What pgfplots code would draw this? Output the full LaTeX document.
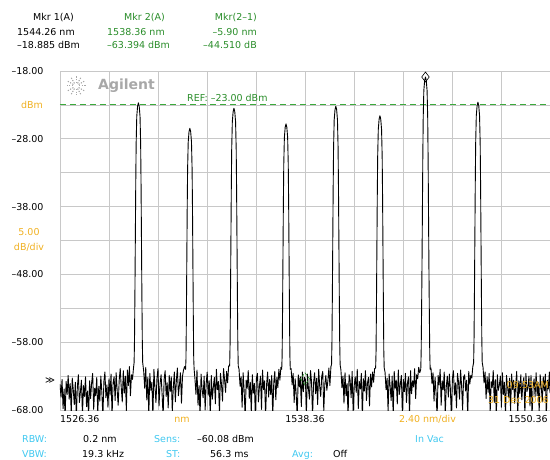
\documentclass[border=0pt]{standalone}
\usepackage{pgfplots}
\pgfplotsset{compat=1.18}
\usepackage{fontspec}
\setmainfont{DejaVu Sans}
\definecolor{osaorange}{RGB}{240,176,32}
\definecolor{osacyan}{RGB}{64,200,240}
\definecolor{osagreen}{RGB}{40,140,40}
\definecolor{refgreen}{RGB}{60,170,60}
\definecolor{gridgray}{RGB}{200,200,200}
\definecolor{logogray}{RGB}{168,168,168}
\begin{document}
\begin{tikzpicture}[font=\fontsize{9.5}{11}\selectfont]
\useasboundingbox (0pt,0pt) rectangle (550pt,459pt);
\begin{axis}[
  at={(60pt,49pt)}, anchor=south west, scale only axis, width=490pt, height=339pt,
  xmin=1526.36, xmax=1550.36, ymin=-68, ymax=-18,
  axis line style={draw=gridgray, line width=0.8pt},
  xtick={1526.36,1528.76,1531.16,1533.56,1535.96,1538.36,1540.76,1543.16,1545.56,1547.96,1550.36},
  xticklabels={},
  ytick={-68,-58,-48,-38,-28,-18},
  yticklabels={–68.00,–58.00,–48.00,–38.00,–28.00,–18.00},
  minor ytick={-63,-53,-43,-33,-23},
  grid=both,
  major grid style={gridgray, line width=0.8pt},
  minor grid style={gridgray, line width=0.8pt},
  major tick length=0pt, minor tick length=0pt,
  yticklabel style={font=\fontsize{9.5}{11}\selectfont, anchor=east, xshift=-13pt},
  clip mode=individual,
]
\addplot[draw=refgreen, line width=1pt, dash pattern=on 6pt off 4pt, mark=none] coordinates {(1526.36,-23) (1550.36,-23)};
\addplot[black, line width=0.9pt, line join=round, mark=none] coordinates {
(1526.36,-64.2)(1526.41,-66.1)(1526.46,-63.5)(1526.51,-67.8)(1526.56,-64.9)(1526.61,-69.0)(1526.66,-63.8)(1526.71,-65.7)(1526.76,-62.9)(1526.81,-66.4)
(1526.86,-64.1)(1526.91,-68.5)(1526.96,-63.3)(1527.01,-65.0)(1527.06,-67.2)(1527.11,-63.9)(1527.16,-69.0)(1527.21,-64.6)(1527.26,-62.8)(1527.31,-66.9)
(1527.36,-65.3)(1527.41,-63.6)(1527.46,-68.8)(1527.51,-64.4)(1527.56,-66.0)(1527.61,-63.1)(1527.66,-67.5)(1527.71,-65.2)(1527.76,-69.0)(1527.81,-63.7)
(1527.86,-66.3)(1527.91,-64.0)(1527.96,-62.6)(1528.01,-67.9)(1528.06,-64.8)(1528.11,-65.9)(1528.16,-63.2)(1528.21,-68.4)(1528.26,-64.5)(1528.31,-66.7)
(1528.36,-63.0)(1528.41,-65.4)(1528.46,-69.0)(1528.51,-63.8)(1528.56,-62.4)(1528.61,-66.2)(1528.66,-64.3)(1528.71,-67.6)(1528.76,-63.4)(1528.81,-65.8)
(1528.86,-62.7)(1528.91,-68.9)(1528.96,-64.0)(1529.01,-63.1)(1529.06,-66.6)(1529.11,-62.5)(1529.16,-65.1)(1529.21,-67.3)(1529.26,-63.6)(1529.31,-61.9)
(1529.36,-64.7)(1529.41,-66.8)(1529.46,-62.2)(1529.51,-65.5)(1529.56,-63.0)(1529.61,-68.1)(1529.66,-62.1)(1529.71,-64.4)(1529.76,-61.6)(1529.81,-65.9)
(1529.86,-62.8)(1529.91,-63.5)(1529.96,-61.8)
(1529.99,-61.0)(1530.01,-57.5)(1530.03,-50.7)(1530.05,-42.7)(1530.07,-34.7)(1530.09,-28.7)(1530.12,-24.7)(1530.16,-23.2)(1530.20,-22.7)(1530.24,-23.2)(1530.28,-24.7)(1530.31,-28.7)(1530.33,-34.7)(1530.35,-42.7)(1530.37,-50.7)(1530.39,-57.5)(1530.41,-61.0)
(1530.46,-62.3)(1530.51,-64.8)(1530.56,-61.7)(1530.61,-66.5)(1530.66,-63.2)(1530.71,-68.7)(1530.76,-62.6)(1530.81,-65.1)(1530.86,-63.9)(1530.91,-69.0)
(1530.96,-62.0)(1531.01,-64.6)(1531.06,-66.9)(1531.11,-63.3)(1531.16,-61.9)(1531.21,-67.4)(1531.26,-64.2)(1531.31,-62.8)(1531.36,-65.6)(1531.41,-69.0)
(1531.46,-63.5)(1531.51,-62.2)(1531.56,-66.0)(1531.61,-64.0)(1531.66,-67.7)(1531.71,-62.9)(1531.76,-65.3)(1531.81,-63.1)(1531.86,-68.2)(1531.91,-64.7)
(1531.96,-62.4)(1532.01,-66.8)(1532.06,-63.6)(1532.11,-61.8)(1532.16,-65.9)(1532.21,-64.3)(1532.26,-62.5)(1532.31,-67.0)(1532.36,-63.0)(1532.41,-62.1)
(1532.46,-61.6)
(1532.51,-62.0)(1532.53,-60.5)(1532.55,-54.45)(1532.57,-46.45)(1532.59,-38.45)(1532.61,-32.45)(1532.64,-28.45)(1532.68,-26.95)(1532.72,-26.45)(1532.76,-26.95)(1532.80,-28.45)(1532.83,-32.45)(1532.85,-38.45)(1532.87,-46.45)(1532.89,-54.45)(1532.91,-60.5)(1532.93,-62.0)
(1532.97,-63.4)(1533.02,-65.7)(1533.07,-62.1)(1533.12,-67.3)(1533.17,-64.4)(1533.22,-69.0)(1533.27,-62.7)(1533.32,-64.9)(1533.37,-66.2)(1533.42,-63.0)
(1533.47,-68.0)(1533.52,-64.1)(1533.57,-62.4)(1533.62,-65.8)(1533.67,-63.7)(1533.72,-69.0)(1533.77,-62.9)(1533.82,-66.4)(1533.87,-64.6)(1533.92,-63.2)
(1533.97,-67.1)(1534.02,-62.0)(1534.07,-65.0)(1534.12,-63.8)(1534.17,-68.6)(1534.22,-62.6)(1534.27,-64.2)(1534.32,-66.7)(1534.37,-61.9)(1534.42,-63.5)
(1534.47,-65.4)(1534.52,-62.3)(1534.57,-64.0)(1534.62,-61.5)
(1534.67,-61.5)(1534.69,-58.3)(1534.71,-51.5)(1534.73,-43.5)(1534.75,-35.5)(1534.77,-29.5)(1534.80,-25.5)(1534.84,-24.0)(1534.88,-23.5)(1534.92,-24.0)(1534.96,-25.5)(1534.99,-29.5)(1535.01,-35.5)(1535.03,-43.5)(1535.05,-51.5)(1535.07,-58.3)(1535.09,-61.5)
(1535.13,-62.0)(1535.18,-64.5)(1535.23,-63.1)(1535.28,-67.6)(1535.33,-62.5)(1535.38,-65.2)(1535.43,-69.0)(1535.48,-63.6)(1535.53,-64.8)(1535.58,-62.2)
(1535.63,-66.3)(1535.68,-63.9)(1535.73,-68.4)(1535.78,-62.8)(1535.83,-65.5)(1535.88,-64.1)(1535.93,-69.0)(1535.98,-63.3)(1536.03,-62.6)(1536.08,-66.8)
(1536.13,-64.4)(1536.18,-63.0)(1536.23,-67.9)(1536.28,-62.1)(1536.33,-65.0)(1536.38,-63.7)(1536.43,-68.8)(1536.48,-64.2)(1536.53,-62.4)(1536.58,-66.1)
(1536.63,-63.5)(1536.68,-65.7)(1536.73,-62.9)(1536.78,-69.0)(1536.83,-64.0)(1536.88,-62.3)(1536.93,-66.5)(1536.98,-63.2)(1537.03,-64.7)(1537.08,-62.0)
(1537.13,-63.6)(1537.18,-61.7)
(1537.22,-62.0)(1537.24,-60.0)(1537.26,-53.8)(1537.28,-45.8)(1537.30,-37.8)(1537.32,-31.8)(1537.35,-27.8)(1537.39,-26.3)(1537.43,-25.8)(1537.47,-26.3)(1537.51,-27.8)(1537.54,-31.8)(1537.56,-37.8)(1537.58,-45.8)(1537.60,-53.8)(1537.62,-60.0)(1537.64,-62.0)
(1537.68,-61.9)(1537.73,-64.3)(1537.78,-62.6)(1537.83,-66.9)(1537.88,-63.4)(1537.93,-65.8)(1537.98,-69.0)(1538.03,-62.8)(1538.08,-64.6)(1538.13,-63.1)
(1538.18,-67.5)(1538.23,-62.4)(1538.28,-65.3)(1538.33,-63.2)(1538.38,-63.5)(1538.43,-68.3)(1538.48,-62.7)(1538.53,-64.9)(1538.58,-66.4)(1538.63,-62.2)
(1538.68,-63.8)(1538.73,-69.0)(1538.78,-64.0)(1538.83,-62.5)(1538.88,-65.6)(1538.93,-63.3)(1538.98,-67.2)(1539.03,-62.0)(1539.08,-64.5)(1539.13,-66.0)
(1539.18,-63.0)(1539.23,-62.3)(1539.28,-68.1)(1539.33,-64.2)(1539.38,-62.9)(1539.43,-65.1)(1539.48,-63.7)(1539.53,-61.8)(1539.58,-64.4)(1539.63,-61.6)
(1539.66,-61.3)(1539.68,-58.0)(1539.70,-51.2)(1539.72,-43.2)(1539.74,-35.2)(1539.76,-29.2)(1539.79,-25.2)(1539.83,-23.7)(1539.87,-23.2)(1539.91,-23.7)(1539.95,-25.2)(1539.98,-29.2)(1540.00,-35.2)(1540.02,-43.2)(1540.04,-51.2)(1540.06,-58.0)(1540.08,-61.3)
(1540.12,-62.1)(1540.17,-64.7)(1540.22,-63.0)(1540.27,-67.0)(1540.32,-62.5)(1540.37,-65.9)(1540.42,-64.1)(1540.47,-69.0)(1540.52,-62.8)(1540.57,-63.6)
(1540.62,-66.2)(1540.67,-62.3)(1540.72,-68.5)(1540.77,-64.4)(1540.82,-63.1)(1540.87,-65.4)(1540.92,-62.0)(1540.97,-67.8)(1541.02,-63.8)(1541.07,-64.9)
(1541.12,-62.6)(1541.17,-69.0)(1541.22,-63.4)(1541.27,-65.2)(1541.32,-62.2)(1541.37,-66.6)(1541.42,-64.0)(1541.47,-63.2)(1541.52,-67.4)(1541.57,-62.7)
(1541.62,-64.6)(1541.67,-62.4)(1541.72,-63.9)(1541.77,-61.9)
(1541.82,-61.8)(1541.84,-59.4)(1541.86,-52.6)(1541.88,-44.6)(1541.90,-36.6)(1541.92,-30.6)(1541.95,-26.6)(1541.99,-25.1)(1542.03,-24.6)(1542.07,-25.1)(1542.11,-26.6)(1542.14,-30.6)(1542.16,-36.6)(1542.18,-44.6)(1542.20,-52.6)(1542.22,-59.4)(1542.24,-61.8)
(1542.28,-62.4)(1542.33,-65.0)(1542.38,-63.3)(1542.43,-68.2)(1542.48,-62.7)(1542.53,-64.5)(1542.58,-66.6)(1542.63,-63.0)(1542.68,-69.0)(1542.73,-62.3)
(1542.78,-64.8)(1542.83,-63.6)(1542.88,-67.1)(1542.93,-62.1)(1542.98,-65.7)(1543.03,-64.2)(1543.08,-62.9)(1543.13,-68.7)(1543.18,-63.5)(1543.23,-65.3)
(1543.28,-62.6)(1543.33,-66.9)(1543.38,-64.0)(1543.43,-63.1)(1543.48,-69.0)(1543.53,-62.2)(1543.58,-65.6)(1543.63,-63.7)(1543.68,-64.6)(1543.73,-61.9)
(1543.78,-66.3)(1543.83,-62.8)(1543.88,-63.4)(1543.93,-61.7)(1543.98,-62.5)
(1544.03,-62.0)(1544.05,-59.5)(1544.07,-53.7)(1544.09,-46.9)(1544.11,-38.9)(1544.13,-30.9)(1544.15,-24.9)(1544.18,-20.9)(1544.22,-19.4)(1544.26,-18.885)(1544.30,-19.4)(1544.34,-20.9)(1544.37,-24.9)(1544.39,-30.9)(1544.41,-38.9)(1544.43,-46.9)(1544.45,-53.7)(1544.47,-59.5)(1544.49,-62.0)
(1544.53,-61.8)(1544.58,-64.1)(1544.63,-62.5)(1544.68,-66.7)(1544.73,-63.2)(1544.78,-65.5)(1544.83,-69.0)(1544.88,-62.9)(1544.93,-64.3)(1544.98,-62.0)
(1545.03,-67.3)(1545.08,-63.7)(1545.13,-65.0)(1545.18,-62.4)(1545.23,-68.6)(1545.28,-64.6)(1545.33,-63.0)(1545.38,-66.1)(1545.43,-62.7)(1545.48,-64.9)
(1545.53,-69.0)(1545.58,-63.4)(1545.63,-62.2)(1545.68,-65.8)(1545.73,-64.0)(1545.78,-67.7)(1545.83,-62.6)(1545.88,-63.9)(1545.93,-66.4)(1545.98,-62.1)
(1546.03,-64.4)(1546.08,-68.0)(1546.13,-63.1)(1546.18,-62.8)(1546.23,-65.2)(1546.28,-63.6)(1546.33,-69.0)(1546.38,-62.3)(1546.43,-64.2)(1546.48,-62.9)
(1546.53,-63.3)(1546.58,-61.6)
(1546.62,-61.0)(1546.64,-57.4)(1546.66,-50.6)(1546.68,-42.6)(1546.70,-34.6)(1546.72,-28.6)(1546.75,-24.6)(1546.79,-23.1)(1546.83,-22.6)(1546.87,-23.1)(1546.91,-24.6)(1546.94,-28.6)(1546.96,-34.6)(1546.98,-42.6)(1547.00,-50.6)(1547.02,-57.4)(1547.04,-61.0)
(1547.08,-61.7)(1547.13,-64.0)(1547.18,-62.4)(1547.23,-66.3)(1547.28,-63.1)(1547.33,-65.4)(1547.38,-62.6)(1547.43,-68.4)(1547.48,-63.8)(1547.53,-64.7)
(1547.58,-62.2)(1547.63,-66.9)(1547.68,-63.5)(1547.73,-69.0)(1547.78,-62.8)(1547.83,-65.1)(1547.88,-64.3)(1547.93,-63.0)(1547.98,-67.6)(1548.03,-62.5)
(1548.08,-65.7)(1548.13,-63.9)(1548.18,-69.0)(1548.23,-62.9)(1548.28,-64.5)(1548.33,-66.2)(1548.38,-63.3)(1548.43,-68.1)(1548.48,-62.7)(1548.53,-65.0)
(1548.58,-63.6)(1548.63,-67.0)(1548.68,-64.2)(1548.73,-62.3)(1548.78,-69.0)(1548.83,-63.7)(1548.88,-65.6)(1548.93,-62.8)(1548.98,-66.5)(1549.03,-64.1)
(1549.08,-63.2)(1549.13,-68.7)(1549.18,-62.6)(1549.23,-65.3)(1549.28,-64.6)(1549.33,-63.0)(1549.38,-67.4)(1549.43,-62.9)(1549.48,-69.0)(1549.53,-64.8)
(1549.58,-63.4)(1549.63,-66.0)(1549.68,-62.5)(1549.73,-65.9)(1549.78,-63.9)(1549.83,-68.3)(1549.88,-62.8)(1549.93,-64.4)(1549.98,-66.8)(1550.03,-63.1)
(1550.08,-65.2)(1550.13,-62.7)(1550.18,-69.0)(1550.23,-63.6)(1550.28,-64.9)(1550.33,-62.4)(1550.36,-65.5)
};
\addplot[only marks, mark=diamond, mark size=5pt, mark options={draw=black, fill=none, line width=0.6pt, solid}] coordinates {(1544.26,-18.885)};
\addplot[only marks, mark=diamond, mark size=6pt, mark options={draw=osagreen, fill=none, line width=0.7pt, densely dashed}] coordinates {(1538.36,-63.394)};
\end{axis}
\begin{scope}[x=1pt, y=1pt, every node/.style={inner sep=0pt}]
% header
\node[anchor=base] at (53.5,438.5) {Mkr 1(A)};
\node[anchor=base west] at (17,423) {1544.26 nm};
\node[anchor=base west] at (17,410) {–18.885 dBm};
\node[anchor=base, osagreen] at (144.5,438.5) {Mkr 2(A)};
\node[anchor=base west, osagreen] at (107,423) {1538.36 nm};
\node[anchor=base west, osagreen] at (107,410) {–63.394 dBm};
\node[anchor=base east, osagreen] at (257,438.5) {Mkr(2–1)};
\node[anchor=base east, osagreen] at (257,423) {–5.90 nm};
\node[anchor=base east, osagreen] at (257,410) {–44.510 dB};
% left side
\node[osaorange] at (32,354.5) {dBm};
\node[osaorange] at (29,226.5) {5.00};
\node[osaorange] at (29,212) {dB/div};
\node at (50,78) {≫};
% logo and ref
\foreach \a in {0,30,...,330} \draw[logogray, line width=1pt, dash pattern=on 1.3pt off 1.3pt, shift={(76,373)}] (\a:3) -- (\a:10.5);
\node[anchor=base west, logogray, font=\fontsize{14}{16}\selectfont\bfseries] at (98,369.5) {Agilent};
\node[anchor=base west, osagreen] at (187,357.5) {REF: –23.00 dBm};
% timestamp
\node[anchor=base east, osaorange] at (549,71) {09:53AM};
\node[anchor=base east, osaorange] at (549,56) {31 Dec 2006};
% bottom axis labels
\node[anchor=base west] at (60,37) {1526.36};
\node[anchor=base, osaorange] at (182,37) {nm};
\node[anchor=base] at (305,37) {1538.36};
\node[anchor=base, osaorange] at (427.5,37) {2.40 nm/div};
\node[anchor=base east] at (548,37) {1550.36};
% settings rows
\node[anchor=base west, osacyan] at (22,17) {RBW:};
\node[anchor=base west] at (83,17) {0.2 nm};
\node[anchor=base west, osacyan] at (154,17) {Sens:};
\node[anchor=base west] at (197,17) {–60.08 dBm};
\node[anchor=base west, osacyan] at (415,17) {In Vac};
\node[anchor=base west, osacyan] at (22,2) {VBW:};
\node[anchor=base west] at (82,2) {19.3 kHz};
\node[anchor=base west, osacyan] at (166,2) {ST:};
\node[anchor=base west] at (210,2) {56.3 ms};
\node[anchor=base west, osacyan] at (292,2) {Avg:};
\node[anchor=base west] at (333,2) {Off};
\end{scope}
\end{tikzpicture}
\end{document}
